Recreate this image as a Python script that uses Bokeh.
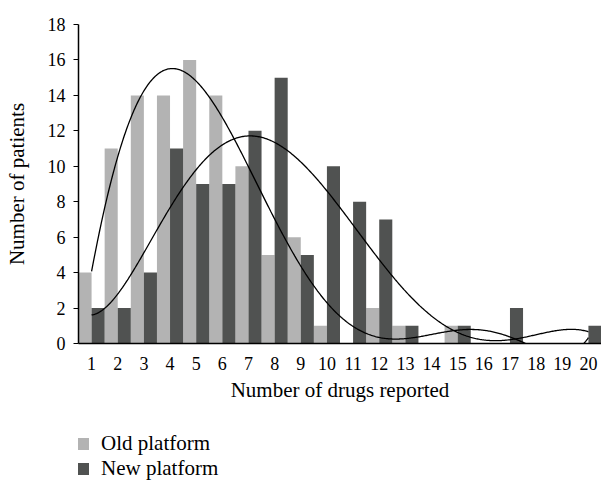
import numpy as np
from bokeh.plotting import figure
from bokeh.layouts import column
from bokeh.models import ColumnDataSource, Legend, LegendItem, FixedTicker
from bokeh.embed import file_html
from bokeh.resources import INLINE

drugs = list(range(1, 21))
old_platform = [4, 11, 14, 14, 16, 14, 10, 5, 6, 1, 0, 2, 1, 0, 1, 0, 0, 0, 0, 0]
new_platform = [2, 2, 4, 11, 9, 9, 12, 15, 5, 10, 8, 7, 1, 0, 1, 0, 2, 0, 0, 1]
y_ticks = [0, 2, 4, 6, 8, 10, 12, 14, 16, 18]
series_names = ["Old platform", "New platform"]
trend_degree = 6

FONT = "Liberation Serif"
OLD_C = "#b3b3b3"
NEW_C = "#505251"

p = figure(width=601, height=420, x_range=(0.5, 20.5), y_range=(0, 18),
           output_backend="svg", toolbar_location=None,
           min_border_left=78, min_border_right=0, min_border_top=24, min_border_bottom=77)
p.outline_line_color = None
p.grid.visible = False

x = np.array(drugs, dtype=float)
src = ColumnDataSource(dict(x_old=x - 0.25, x_new=x + 0.25, old=old_platform, new=new_platform))
p.vbar(x="x_old", top="old", width=0.5, source=src, fill_color=OLD_C, line_color=None)
p.vbar(x="x_new", top="new", width=0.5, source=src, fill_color=NEW_C, line_color=None)

xs = np.linspace(1, 20, 500)
for series in (old_platform, new_platform):
    c = np.polyfit(x, series, trend_degree)
    p.line(xs, np.polyval(c, xs), line_color="black", line_width=1.3)

p.xaxis.ticker = FixedTicker(ticks=drugs)
p.yaxis.ticker = FixedTicker(ticks=y_ticks)
for ax in (p.xaxis, p.yaxis):
    ax.axis_line_color = "black"
    ax.axis_line_width = 1.5
    ax.major_tick_line_color = "black"
    ax.minor_tick_line_color = None
    ax.major_label_text_font = FONT
    ax.major_label_text_font_size = "18px"
    ax.major_label_text_color = "black"
    ax.axis_label_text_font = FONT
    ax.axis_label_text_font_size = "21px"
    ax.axis_label_text_font_style = "normal"
    ax.axis_label_text_color = "black"
p.xaxis.major_tick_out = 0
p.xaxis.major_tick_in = 0
p.yaxis.major_tick_out = 5
p.yaxis.major_tick_in = 0
p.xaxis.major_label_standoff = 13
p.yaxis.major_label_standoff = 8
p.xaxis.axis_label = "Number of drugs reported"
p.yaxis.axis_label = "Number of patients"
p.xaxis.axis_label_standoff = 5
p.yaxis.axis_label_standoff = 16

# legend panel
lg = figure(width=601, height=60, x_range=(0, 1), y_range=(0, 1),
            x_axis_location=None, y_axis_location=None,
            output_backend="svg", toolbar_location=None,
            min_border_left=0, min_border_right=0, min_border_top=0, min_border_bottom=0)
lg.grid.visible = False
lg.outline_line_color = None
lsrc = ColumnDataSource(dict(x=[5.0], top=[1.0]))
g_old = lg.vbar(x="x", top="top", width=0.1, source=lsrc, fill_color=OLD_C, line_color=None)
g_new = lg.vbar(x="x", top="top", width=0.1, source=lsrc, fill_color=NEW_C, line_color=None)
legend = Legend(items=[LegendItem(label=series_names[0], renderers=[g_old]),
                       LegendItem(label=series_names[1], renderers=[g_new])],
                location=(-3, -1), orientation="vertical",
                label_text_font=FONT, label_text_font_size="21px", label_text_color="black",
                glyph_width=15, glyph_height=15, label_height=15, spacing=0,
                padding=0, margin=0, label_standoff=11,
                border_line_color=None, background_fill_alpha=0)
lg.add_layout(legend, "center")

layout = column(p, lg, spacing=0)
open("out.html", "w").write(file_html(layout, INLINE))
